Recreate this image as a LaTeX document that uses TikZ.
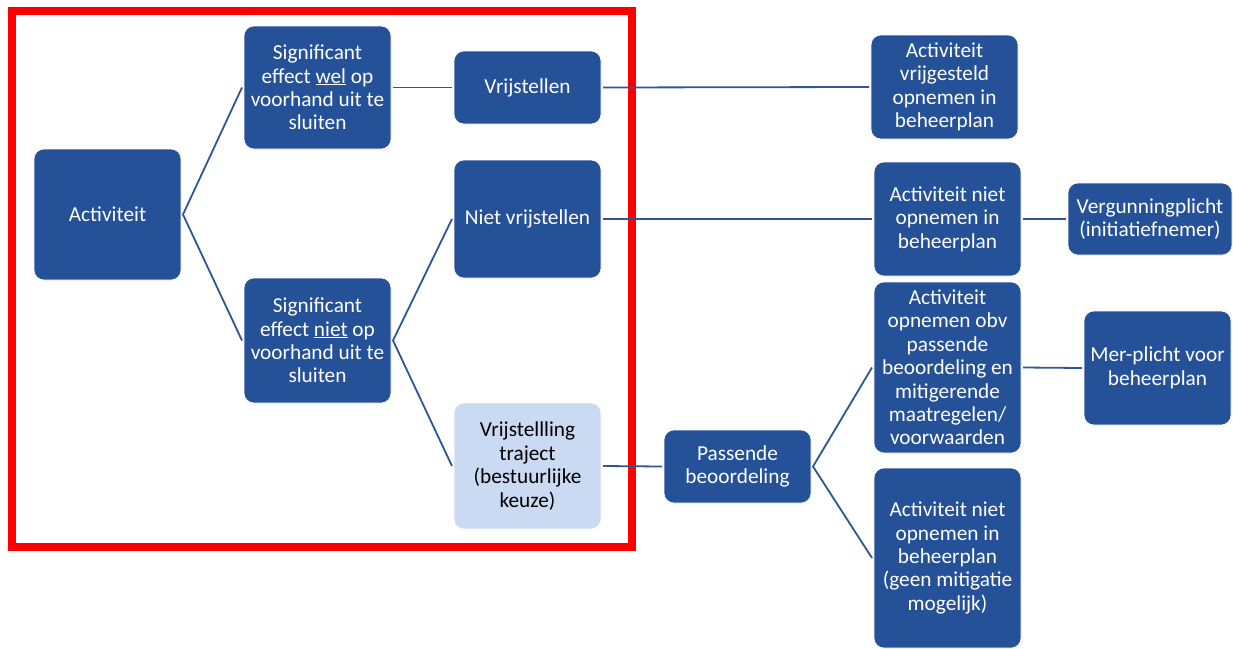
\documentclass[tikz,border=0pt]{standalone}
\usepackage{fontspec}
\setmainfont{Carlito}
\usepackage{tikz}
\definecolor{blokblauw}{RGB}{37,81,153}
\definecolor{lichtblauw}{RGB}{202,218,242}
\definecolor{lijnblauw}{RGB}{47,85,151}

\begin{document}
\begin{tikzpicture}[x=1pt,y=-1pt,
    blok/.style={draw=white,line width=0.6pt,fill=blokblauw,text=white,rounded corners=10pt,
      align=center,inner sep=0pt,outer sep=2pt,minimum width=147pt,
      font=\fontsize{21.3}{23.4}\selectfont},
    licht/.style={blok,fill=lichtblauw,text=black},
    lijn/.style={draw=lijnblauw,line width=1.8pt}]
  \useasboundingbox (0,0) rectangle (1233,648);

  % kader rond de vrijstelling
  \draw[red,line width=8pt] (11.5,11) rectangle (632,546.5);

  \node[blok,minimum height=131pt] (act) at (107.5,214.5) {Activiteit};
  \node[blok,minimum height=123pt] (wel) at (317.5,87.5) {Significant\\effect \underline{wel} op\\voorhand uit te\\sluiten};
  \node[blok,minimum height=125pt] (niet) at (317.5,340.5) {Significant\\effect \underline{niet} op\\voorhand uit te\\sluiten};

  \node[blok,minimum height=73pt] (vrij) at (527.5,87.5) {Vrijstellen};
  \node[blok,minimum height=118pt] (nvrij) at (527.5,219) {Niet vrijstellen};
  \node[licht,minimum height=126pt] (traj) at (527.5,466) {Vrijstellling\\traject\\(bestuurlijke\\keuze)};

  \node[blok,minimum height=73pt] (pass) at (737.5,466.5) {Passende\\beoordeling};

  \node[blok,minimum height=104pt] (avrij) at (944.5,87) {Activiteit\\vrijgesteld\\opnemen in\\beheerplan};
  \node[blok,minimum height=114pt] (aniet) at (947.5,219) {Activiteit niet\\opnemen in\\beheerplan};
  \node[blok,minimum height=171pt] (aobv) at (947.5,367.5) {Activiteit\\opnemen obv\\passende\\beoordeling en\\mitigerende\\maatregelen/\\voorwaarden};
  \node[blok,minimum height=180pt] (ageen) at (947.5,558) {Activiteit niet\\opnemen in\\beheerplan\\(geen mitigatie\\mogelijk)};

  \node[blok,minimum width=164pt,minimum height=72pt] (verg) at (1150,219) {Vergunningplicht\\(initiatiefnemer)};
  \node[blok,minimum height=114pt] (mer) at (1157.5,368) {Mer-plicht voor\\beheerplan};

  \draw[lijn] (wel.west) -- (act.east) -- (niet.west);
  \draw[lijn] (wel.east) -- (vrij.west);
  \draw[lijn] (nvrij.west) -- (niet.east) -- (traj.west);
  \draw[lijn] (vrij.east) -- (avrij.west);
  \draw[lijn] (nvrij.east) -- (aniet.west);
  \draw[lijn] (traj.east) -- (pass.west);
  \draw[lijn] (aobv.west) -- (pass.east) -- (ageen.west);
  \draw[lijn] (aniet.east) -- (verg.west);
  \draw[lijn] (aobv.east) -- (mer.west);
\end{tikzpicture}
\end{document}
